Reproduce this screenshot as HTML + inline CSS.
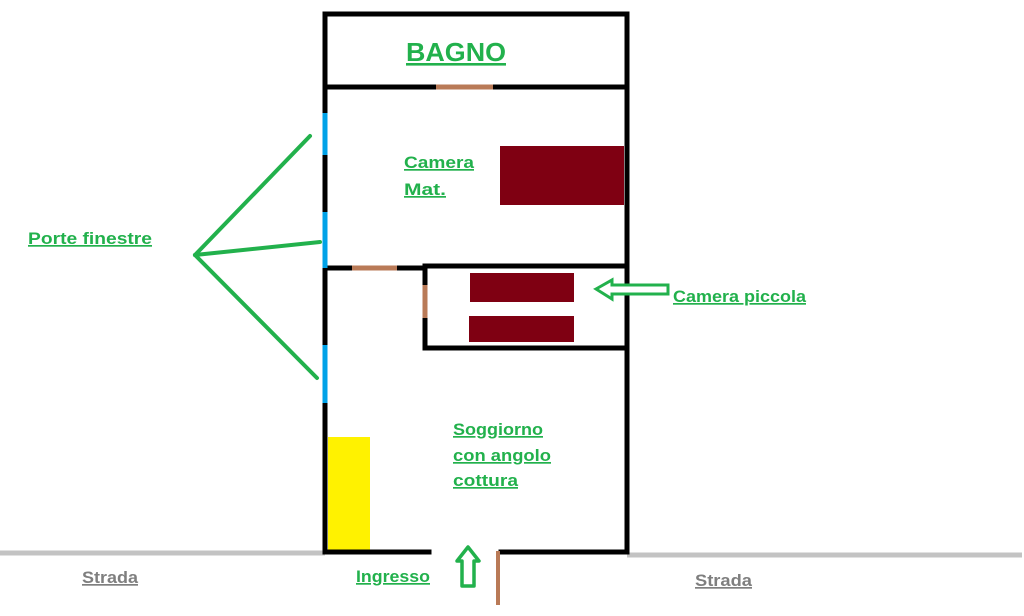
<!DOCTYPE html>
<html><head><meta charset="utf-8"><style>
html,body{margin:0;padding:0;background:#fff;width:1024px;height:616px;overflow:hidden}
svg text{font-family:"Liberation Sans",sans-serif;font-weight:bold}
</style></head><body>
<svg width="1024" height="616" viewBox="0 0 1024 616" xmlns="http://www.w3.org/2000/svg">
<line x1="0" y1="553" x2="325" y2="553" stroke="#c3c3c3" stroke-width="5"/>
<line x1="627" y1="555" x2="1022" y2="555" stroke="#c3c3c3" stroke-width="5"/>
<rect x="500" y="146" width="124" height="59" fill="#7f0012"/>
<rect x="470" y="273" width="104" height="29" fill="#7f0012"/>
<rect x="469" y="316" width="105" height="26" fill="#7f0012"/>
<rect x="328" y="437" width="42" height="114" fill="#fff200"/>
<g stroke="#000" stroke-width="5" fill="none" stroke-linecap="square">
<line x1="325" y1="14" x2="627" y2="14"/>
<line x1="325" y1="14" x2="325" y2="552"/>
<line x1="627" y1="14" x2="627" y2="552"/>
<line x1="325" y1="87" x2="627" y2="87"/>
<line x1="325" y1="268" x2="425" y2="268"/>
<line x1="425" y1="266" x2="627" y2="266"/>
<line x1="425" y1="266" x2="425" y2="348"/>
<line x1="425" y1="348" x2="627" y2="348"/>
<line x1="325" y1="552" x2="429" y2="552"/>
<line x1="501" y1="552" x2="627" y2="552"/>
</g>
<g stroke="#b97a57" stroke-width="5">
<line x1="436" y1="87" x2="493" y2="87"/>
<line x1="352" y1="268" x2="397" y2="268"/>
<line x1="425" y1="285" x2="425" y2="318"/>
<line x1="498" y1="551" x2="498" y2="605" stroke-width="4"/>
</g>
<g stroke="#00a2e8" stroke-width="5">
<line x1="325" y1="113" x2="325" y2="155"/>
<line x1="325" y1="212" x2="325" y2="268"/>
<line x1="325" y1="345" x2="325" y2="403"/>
</g>
<g stroke="#22b14c" stroke-width="4" stroke-linecap="round" fill="none">
<line x1="195" y1="255" x2="310" y2="136"/>
<line x1="195" y1="255" x2="320" y2="242"/>
<line x1="195" y1="255" x2="317" y2="378"/>
</g>
<polygon points="596,289 612,280 612,285 668,285 668,294 612,294 612,299" fill="#fff" stroke="#22b14c" stroke-width="3"/>
<polygon points="468,547 479,561 474,561 474,586 462,586 462,561 457,561" fill="#fff" stroke="#22b14c" stroke-width="3.5" stroke-linejoin="round"/>
<g fill="#22b14c" text-decoration="underline">
<text x="406" y="61" font-size="26" textLength="100" lengthAdjust="spacingAndGlyphs">BAGNO</text>
<text x="404" y="168" font-size="17" textLength="70" lengthAdjust="spacingAndGlyphs">Camera</text>
<text x="404" y="195" font-size="17" textLength="42" lengthAdjust="spacingAndGlyphs">Mat.</text>
<text x="28" y="244" font-size="17" textLength="124" lengthAdjust="spacingAndGlyphs">Porte finestre</text>
<text x="673" y="302" font-size="17" textLength="133" lengthAdjust="spacingAndGlyphs">Camera piccola</text>
<text x="453" y="435" font-size="17" textLength="90" lengthAdjust="spacingAndGlyphs">Soggiorno</text>
<text x="453" y="461" font-size="17" textLength="98" lengthAdjust="spacingAndGlyphs">con angolo</text>
<text x="453" y="486" font-size="17" textLength="65" lengthAdjust="spacingAndGlyphs">cottura</text>
<text x="356" y="582" font-size="17" textLength="74" lengthAdjust="spacingAndGlyphs">Ingresso</text>
</g>
<g fill="#7f7f7f" text-decoration="underline">
<text x="82" y="583" font-size="17" textLength="56" lengthAdjust="spacingAndGlyphs">Strada</text>
<text x="695" y="586" font-size="17" textLength="57" lengthAdjust="spacingAndGlyphs">Strada</text>
</g>
</svg>
</body></html>
